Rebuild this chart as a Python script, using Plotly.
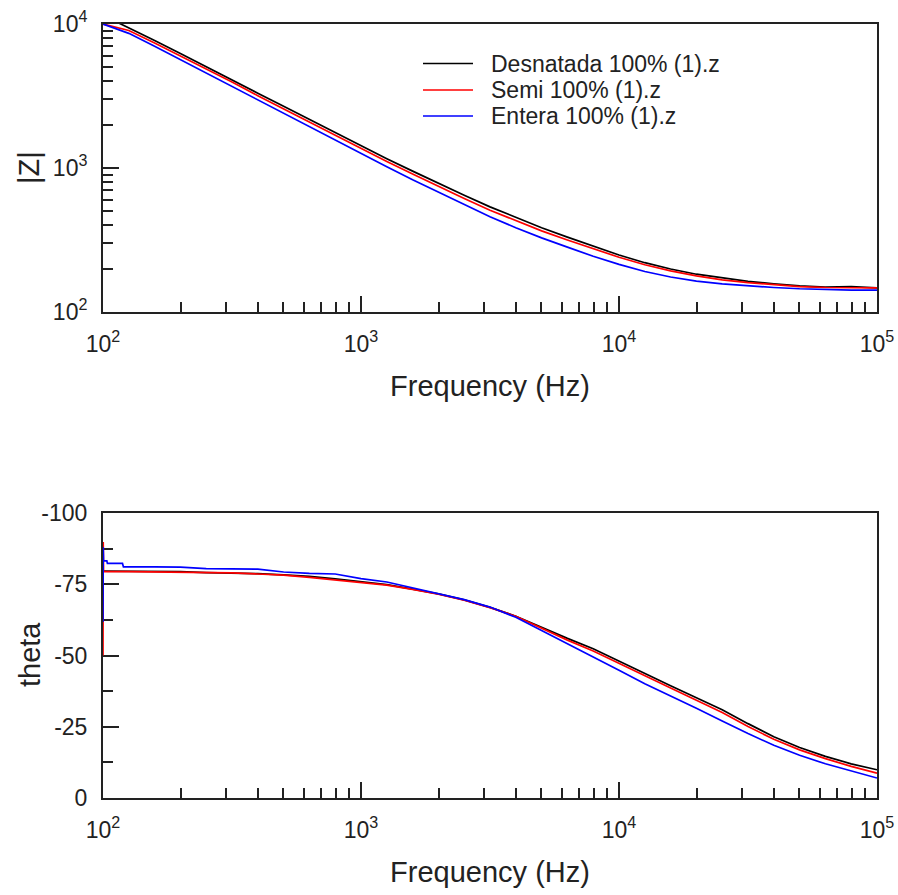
import plotly.graph_objects as go
from plotly.subplots import make_subplots

# ---------------- data ----------------
freq = [100, 125.9, 158.5, 199.5, 251.2, 316.2, 398.1, 501.2, 631.0, 794.3,
        1000, 1259, 1585, 1995, 2512, 3162, 3981, 5012, 6310, 7943,
        10000, 12589, 15849, 19953, 25119, 31623, 39811, 50119, 63096, 79433, 100000]

z_desnatada = [11500, 9440, 7670, 6240, 5070, 4100, 3310, 2680, 2170, 1760,
               1420, 1160, 951, 782, 646, 537, 452, 385, 331, 287,
               249, 220, 199, 183, 172, 163, 157, 152, 149, 150, 147]
z_semi = [10000, 9020, 7380, 6000, 4880, 3950, 3180, 2580, 2080, 1680,
          1360, 1110, 908, 745, 614, 509, 429, 366, 316, 274,
          240, 213, 193, 178, 167, 160, 154, 150, 148, 147, 147]
z_entera = [10000, 8610, 7000, 5650, 4570, 3690, 2970, 2390, 1930, 1550,
            1250, 1020, 828, 678, 556, 459, 385, 327, 282, 244,
            214, 191, 175, 164, 157, 152, 148, 145, 143, 142, 142]

freq_th_desnatada = freq
th_desnatada = [-79.6, -79.6, -79.6, -79.4, -79.1, -79.0, -78.7, -78.3, -77.8, -76.9,
                -76.0, -74.9, -73.3, -71.6, -69.5, -66.9, -63.8, -59.8, -56.0, -52.4,
                -48.0, -43.6, -39.4, -35.2, -31.0, -26.1, -21.5, -17.7, -14.6, -12.0, -9.9]

freq_th_semi = [100, 100.2, 100.5] + freq[1:]
th_semi = [-50.0, -89.8, -79.5, -79.4, -79.3, -79.2, -79.1, -79.0, -78.6, -78.2, -77.4, -76.5,
           -75.7, -74.7, -73.2, -71.5, -69.4, -66.8, -63.8, -59.5, -55.4, -51.6,
           -47.2, -42.8, -38.6, -34.3, -30.0, -25.1, -20.6, -16.9, -13.8, -11.1, -8.7]

freq_th_entera = [100, 100.2, 100.5, 103.5, 104, 119, 120] + freq[2:]
th_entera = [-61.8, -88.0, -83.2, -83.2, -82.3, -82.3, -81.1, -81.1, -81.0, -80.5, -80.5, -80.3, -79.3, -78.8, -78.6,
             -77.0, -75.8, -73.8, -71.8, -69.6, -67.0, -63.4, -58.8, -54.2, -49.5,
             -44.8, -40.1, -35.9, -31.5, -27.0, -22.6, -18.5, -15.0, -12.0, -9.6, -7.0]

names = ["Desnatada 100% (1).z", "Semi 100% (1).z", "Entera 100% (1).z"]
colors = ["#000000", "#ff0000", "#0000ff"]

x_tickvals = [100, 1000, 10000, 100000]
x_ticktext = ["10<sup>2</sup>", "10<sup>3</sup>", "10<sup>4</sup>", "10<sup>5</sup>"]
z_tickvals = [100, 1000, 10000]
z_ticktext = ["10<sup>2</sup>", "10<sup>3</sup>", "10<sup>4</sup>"]
th_tickvals = [-100, -75, -50, -25, 0]
th_ticktext = ["-100", "-75", "-50", "-25", "0"]

# ---------------- figure ----------------
FONT = "Liberation Sans, Arial, sans-serif"
TXT = "#222222"
fig = make_subplots(rows=2, cols=1, vertical_spacing=0.0)

z_series = [z_desnatada, z_semi, z_entera]
th_series = [(freq_th_desnatada, th_desnatada), (freq_th_semi, th_semi), (freq_th_entera, th_entera)]
for i in range(3):
    fig.add_trace(go.Scatter(x=freq, y=z_series[i], mode="lines", name=names[i], showlegend=False,
                             line=dict(color=colors[i], width=1.7)), row=1, col=1)
for i in range(3):
    fx, fy = th_series[i]
    fig.add_trace(go.Scatter(x=fx, y=fy, mode="lines", name=names[i], showlegend=False,
                             line=dict(color=colors[i], width=1.7)), row=2, col=1)

axis_common = dict(showline=True, linecolor=TXT, linewidth=2, mirror=True, automargin=False,
                   showgrid=False, zeroline=False, ticks="inside", ticklen=16,
                   tickwidth=1.5, tickcolor=TXT, layer="below traces",
                   tickfont=dict(family=FONT, size=23, color=TXT))

xcommon = dict(axis_common, type="log", range=[2, 5], tickvals=x_tickvals, ticktext=x_ticktext,
               minor=dict(ticks="inside", ticklen=10, tickwidth=1.5, tickcolor=TXT, dtick="D1",
                          showgrid=False),
               ticklabelstandoff=10,
               title=dict(text="Frequency (Hz)", font=dict(family=FONT, size=29, color=TXT),
                          standoff=20))

fig.update_xaxes(xcommon, row=1, col=1)
fig.update_xaxes(xcommon, row=2, col=1)

fig.update_yaxes(dict(axis_common, type="log", range=[2, 4], tickvals=z_tickvals, ticktext=z_ticktext,
                      minor=dict(ticks="inside", ticklen=10, tickwidth=1.5, tickcolor=TXT,
                                 dtick="D1", showgrid=False),
                      ticklabelstandoff=9), row=1, col=1)
fig.update_yaxes(dict(axis_common, range=[0, -100], tickvals=th_tickvals, ticktext=th_ticktext,
                      minor=dict(ticks="inside", ticklen=10, tickwidth=1.5, tickcolor=TXT,
                                 tickvals=[-87.5, -62.5, -37.5, -12.5], showgrid=False),
                      ticklabelstandoff=9), row=2, col=1)

# ---- pixel helpers for layout-only items ----
PL, PW, PB, PH = 103, 774, 798, 774   # plot-area pixel frame
def px(x):
    return (x - PL) / PW
def py(y):
    return (PB - y) / PH

# y-axis titles
fig.add_annotation(xref="paper", yref="paper", x=px(29), y=py(168), text="|Z|", textangle=-90,
                   showarrow=False, xanchor="center", yanchor="middle",
                   font=dict(family=FONT, size=29, color=TXT))
fig.add_annotation(xref="paper", yref="paper", x=px(30), y=py(655), text="theta", textangle=-90,
                   showarrow=False, xanchor="center", yanchor="middle",
                   font=dict(family=FONT, size=29, color=TXT))

# manual legend
legend_rows = [63.5, 90, 116]
for i in range(3):
    fig.add_shape(type="line", xref="paper", yref="paper",
                  x0=px(423), x1=px(473), y0=py(legend_rows[i]), y1=py(legend_rows[i]),
                  line=dict(color=colors[i], width=1.7))
    fig.add_annotation(xref="paper", yref="paper", x=px(489), y=py(legend_rows[i]),
                       text=names[i], showarrow=False, xanchor="left", yanchor="middle",
                       font=dict(family=FONT, size=23, color=TXT))

fig.update_layout(
    width=898, height=895,
    margin=dict(l=103, r=21, t=24, b=97, autoexpand=False),
    paper_bgcolor="white", plot_bgcolor="white",
    yaxis=dict(domain=[0.6279, 1.0]), yaxis2=dict(domain=[0.0, 0.3682]),
    showlegend=False,
)

fig.write_html("out.html", config={"displayModeBar": False},
               post_script="document.body.style.margin='0';")
